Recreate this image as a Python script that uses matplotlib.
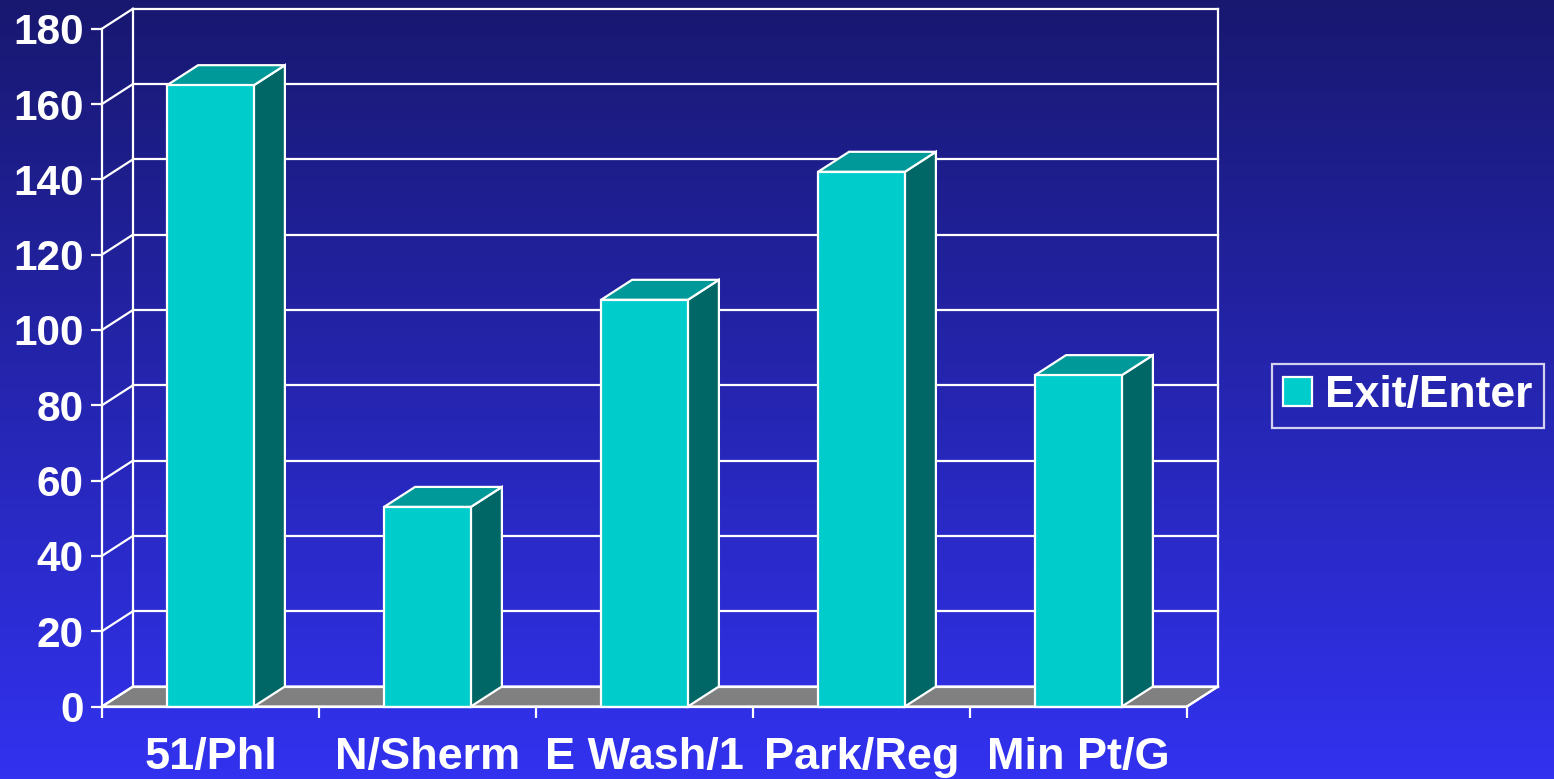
import numpy as np
import matplotlib
matplotlib.use("Agg")
import matplotlib.pyplot as plt
from matplotlib.patches import Polygon, Patch

categories = ["51/Phl", "N/Sherm", "E Wash/1", "Park/Reg", "Min Pt/G"]
values = [165, 53, 108, 142, 88]
series_name = "Exit/Enter"
yticks = list(range(0, 181, 20))

W, H = 1554, 779
DPI = 100
fig = plt.figure(figsize=(W / DPI, H / DPI), dpi=DPI)

# background gradient
bg = fig.add_axes([0, 0, 1, 1], zorder=-10)
top = np.array([24, 24, 112]) / 255
bot = np.array([50, 50, 240]) / 255
t = np.linspace(0, 1, 256)[:, None]
grad = top[None, :] * (1 - t) + bot[None, :] * t
bg.imshow(grad[:, None, :].repeat(2, axis=1), aspect="auto", extent=[0, 1, 0, 1])
bg.set_axis_off()

x0px, x1px = 102, 1187
y0px, y1px = 706.5, 28.7
ax = fig.add_axes([x0px / W, 1 - y0px / H, (x1px - x0px) / W, (y0px - y1px) / H])
ax.patch.set_alpha(0)
n = len(categories)
ax.set_xlim(-0.5, n - 0.5)
ax.set_ylim(0, 180)

px_x = (x1px - x0px) / n          # px per category unit
px_y = (y0px - y1px) / 180.0      # px per value unit
ddx = 31 / px_x
ddy = 20 / px_y

white = "white"
lw = 1.6
L, R = -0.5, n - 0.5

# floor
ax.add_patch(Polygon([(L, 0), (R, 0), (R + ddx, ddy), (L + ddx, ddy)],
                     closed=True, facecolor="#808080", edgecolor=white, lw=lw,
                     clip_on=False, zorder=1))
# back wall grid & side wall diagonals
for v in yticks:
    ax.plot([L + ddx, R + ddx], [v + ddy, v + ddy], color=white, lw=lw, clip_on=False, zorder=2)
    ax.plot([L, L + ddx], [v, v + ddy], color=white, lw=lw, clip_on=False, zorder=2)
ax.plot([L + ddx, L + ddx], [ddy, 180 + ddy], color=white, lw=lw, clip_on=False, zorder=2)
ax.plot([R + ddx, R + ddx], [ddy, 180 + ddy], color=white, lw=lw, clip_on=False, zorder=2)
ax.plot([R, R + ddx], [0, ddy], color=white, lw=lw, clip_on=False, zorder=2)

# bars
bw = 0.4
for i, v in enumerate(values):
    l, r = i - bw / 2, i + bw / 2
    ax.add_patch(Polygon([(r, 0), (r + ddx, ddy), (r + ddx, v + ddy), (r, v)],
                         closed=True, facecolor="#006666", edgecolor=white, lw=lw,
                         clip_on=False, zorder=5))
    ax.add_patch(Polygon([(l, v), (r, v), (r + ddx, v + ddy), (l + ddx, v + ddy)],
                         closed=True, facecolor="#009999", edgecolor=white, lw=lw,
                         clip_on=False, zorder=5))
    ax.add_patch(Polygon([(l, 0), (r, 0), (r, v), (l, v)],
                         closed=True, facecolor="#00CCCC", edgecolor=white, lw=lw,
                         clip_on=False, zorder=6))

# axes / ticks
for s in ["top", "right"]:
    ax.spines[s].set_visible(False)
for s in ["left", "bottom"]:
    ax.spines[s].set_color(white)
    ax.spines[s].set_linewidth(lw)
    ax.spines[s].set_zorder(7)

font = dict(family=["Liberation Sans", "DejaVu Sans"], weight="bold")
ax.set_yticks(yticks)
ax.set_yticklabels([str(v) for v in yticks], fontsize=30.5, color=white, **font)
ax.tick_params(axis="y", length=8, width=lw, color=white, pad=5)

ax.set_xticks(np.arange(n + 1) - 0.5)
ax.set_xticklabels([])
ax.tick_params(axis="x", which="major", length=8, width=lw, color=white)
ax.set_xticks(np.arange(n), minor=True)
ax.set_xticklabels(categories, minor=True, fontsize=32.5, color=white, **font)
ax.tick_params(axis="x", which="minor", length=0, pad=22)

# legend
leg = fig.legend(handles=[Patch(facecolor="#00CCCC", edgecolor=white, lw=lw, label=series_name)],
                 loc="center", bbox_to_anchor=(1408 / W, 1 - 396 / H),
                 prop=dict(family=["Liberation Sans", "DejaVu Sans"], weight="bold", size=32),
                 frameon=True, fancybox=False, handlelength=0.65, handleheight=0.62,
                 handletextpad=0.3, borderpad=0.25, borderaxespad=0, labelcolor=white)
leg.get_frame().set_facecolor("none")
leg.get_frame().set_edgecolor(white)
leg.get_frame().set_linewidth(lw)

fig.savefig("out.png", dpi=DPI)
